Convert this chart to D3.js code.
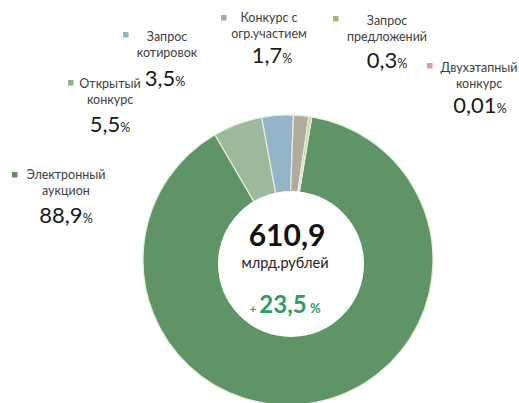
<!DOCTYPE html>
<html><head><meta charset="utf-8">
<script src="https://cdn.jsdelivr.net/npm/d3@7"></script>
<style>
body{margin:0;background:#fff;}
svg{display:block;font-family:Lato,"Open Sans",sans-serif;}
</style></head>
<body><svg id="c" width="519" height="403"></svg>
<script>
const categories = ["Электронный аукцион","Открытый конкурс","Запрос котировок","Конкурс с огр.участием","Запрос предложений","Двухэтапный конкурс"];
const labelLines = [["Электронный","аукцион"],["Открытый","конкурс"],["Запрос","котировок"],["Конкурс с","огр.участием"],["Запрос","предложений"],["Двухэтапный","конкурс"]];
const values = [88.9, 5.5, 3.5, 1.7, 0.3, 0.01];
const valueLabels = ["88,9","5,5","3,5","1,7","0,3","0,01"];
const totalLabel = "610,9";
const unitLabel = "млрд.рублей";
const growthLabel = "23,5";

const sliceColors = ["#5f9467","#9cba9b","#93b5c7","#afab9f","#c9c49c","#d9a3aa"];
const legendColors = ["#5e9162","#8fb08e","#92b2c8","#a8a89a","#b8ad7a","#d8a0a8"];

// layout (text positions)
const labelPos = [
  {sx:12, sy:172, tx:66, ty:179, vx:66, vy:223},
  {sx:68, sy:80, tx:110, ty:88, vx:110, vy:132},
  {sx:123, sy:32, tx:167, ty:41, vx:165, vy:86},
  {sx:221, sy:15, tx:269, ty:22, vx:272, vy:63},
  {sx:333, sy:16, tx:387, ty:25, vx:387, vy:68},
  {sx:427, sy:63, tx:479, ty:72, vx:480, vy:113}
];

const svg = d3.select("#c");
const cx = 288, cy = 260, R = 145;
const a0 = 9.4 * Math.PI / 180;
const pie = d3.pie().sort(null).value(d => d).startAngle(a0).endAngle(a0 + 2*Math.PI);
const arc = d3.arc().innerRadius(0).outerRadius(R);
const color = d3.scaleOrdinal().domain(categories).range(sliceColors);

const g = svg.append("g").attr("transform", `translate(${cx},${cy})`);
g.selectAll("path").data(pie(values)).join("path")
  .attr("d", arc)
  .attr("fill", (d,i) => color(categories[i]))
  .attr("stroke", "#e9efdf").attr("stroke-width", 1.2);

svg.append("circle").attr("cx", 291).attr("cy", 264).attr("r", 73).attr("fill", "#fff");

svg.append("text").attr("x", 287).attr("y", 246).attr("text-anchor","middle")
  .attr("font-size", 30).attr("font-weight", "bold").attr("fill", "#111").text(totalLabel);
svg.append("text").attr("x", 285).attr("y", 268).attr("text-anchor","middle")
  .attr("font-size", 14.5).attr("fill", "#222").text(unitLabel);
const gt = svg.append("text").attr("x", 285).attr("y", 313).attr("text-anchor","middle").attr("fill","#2e9a68");
gt.append("tspan").attr("font-size", 12).attr("font-weight","bold").text("+ ");
gt.append("tspan").attr("font-size", 24).attr("font-weight","bold").text(growthLabel);
gt.append("tspan").attr("font-size", 13).attr("font-weight","bold").text(" %");

const lab = svg.append("g");
categories.forEach((c, i) => {
  const p = labelPos[i];
  lab.append("rect").attr("x", p.sx).attr("y", p.sy).attr("width", 5.5).attr("height", 5.5).attr("fill", legendColors[i]);
  labelLines[i].forEach((ln, j) => {
    lab.append("text").attr("x", p.tx).attr("y", p.ty + j*16).attr("text-anchor","middle")
      .attr("font-size", 12.5).attr("fill", "#404040").text(ln);
  });
  const vt = lab.append("text").attr("x", p.vx).attr("y", p.vy).attr("text-anchor","middle").attr("fill","#1a1a1a");
  vt.append("tspan").attr("font-size", 22).text(valueLabels[i]);
  vt.append("tspan").attr("font-size", 12.5).text("%");
});
</script></body></html>
